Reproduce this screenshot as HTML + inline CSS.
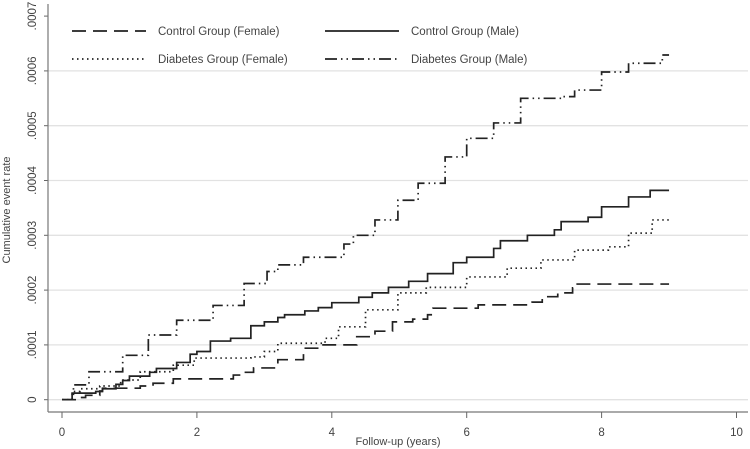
<!DOCTYPE html>
<html><head><meta charset="utf-8"><style>
html,body{margin:0;padding:0;background:#fff;}
svg{display:block;font-family:"Liberation Sans",Arial,sans-serif;}
</style></head><body>
<svg id="chart" width="750" height="449" viewBox="0 0 750 449">
<g id="grid"></g><g id="axes"></g><g id="series"></g><g id="legend"></g>
</svg>
<script>
const xTicks=[0,2,4,6,8,10];
const yTicks=[0,0.0001,0.0002,0.0003,0.0004,0.0005,0.0006,0.0007];
const yTickLabels=["0",".0001",".0002",".0003",".0004",".0005",".0006",".0007"];
const seriesNames=["Control Group (Female)","Control Group (Male)","Diabetes Group (Female)","Diabetes Group (Male)"];
const ctrlFemaleT=[0,0.27,0.35,0.56,0.6,1.16,1.35,1.65,2.54,2.7,2.84,3.2,3.58,3.83,4.37,4.64,4.9,5.2,5.42,5.5,6.17,6.97,7.12,7.35,7.57,7.62,9.0];
const ctrlFemaleV=[0,0.000004,0.000008,0.000016,0.000021,0.000025,0.00003,0.000038,0.000045,0.00005,0.000058,0.000073,0.000094,0.0001,0.000115,0.000125,0.000142,0.000147,0.000155,0.000167,0.000173,0.000178,0.000188,0.000195,0.000204,0.000211,0.000211];
const ctrlMaleT=[0,0.15,0.5,0.6,0.8,0.9,1.0,1.3,1.4,1.7,1.9,2.0,2.2,2.5,2.8,3.0,3.2,3.3,3.6,3.8,4.0,4.4,4.6,4.84,5.14,5.42,5.8,6.0,6.4,6.5,6.9,7.3,7.4,7.8,8.0,8.4,8.72,9.0];
const ctrlMaleV=[0,0.000012,0.000015,0.00002,0.000028,0.000035,0.000043,0.00005,0.000057,0.000068,0.000083,0.000088,0.000107,0.000112,0.000135,0.000142,0.00015,0.000155,0.000162,0.000168,0.000177,0.000187,0.000195,0.000205,0.000216,0.00023,0.00025,0.00026,0.000276,0.00029,0.0003,0.00031,0.000325,0.000333,0.000352,0.00037,0.000382,0.000382];
const diabFemaleT=[0,0.15,0.27,0.56,0.87,1.16,1.65,1.96,2.8,3.0,3.2,3.9,4.1,4.5,4.98,5.4,6.0,6.6,7.1,7.6,8.1,8.4,8.75,9.0];
const diabFemaleV=[0,0.000015,0.00002,0.000025,0.000036,0.000051,0.000063,0.000076,0.000078,0.000088,0.000103,0.000112,0.000133,0.000164,0.000195,0.000205,0.000224,0.00024,0.000255,0.000273,0.000279,0.000304,0.000328,0.000328];
const diabMaleT=[0,0.17,0.4,0.9,1.28,1.7,2.24,2.7,3.04,3.2,3.58,4.18,4.32,4.64,4.98,5.28,5.68,6.0,6.4,6.8,7.42,7.6,8.0,8.4,8.9,9.0];
const diabMaleV=[0,0.000027,0.000051,0.000081,0.000118,0.000145,0.000172,0.000212,0.000234,0.000246,0.00026,0.000284,0.0003,0.000328,0.000364,0.000395,0.000443,0.000477,0.000505,0.00055,0.000553,0.000565,0.000598,0.000614,0.000629,0.000629];

const NS="http://www.w3.org/2000/svg";
const X=v=>62+v*67.45;
const Y=v=>399.7-v*548000;
function mk(tag,attrs,parent,text){const e=document.createElementNS(NS,tag);for(const k in attrs)e.setAttribute(k,attrs[k]);if(text!==undefined)e.textContent=text;parent.appendChild(e);return e;}
const grid=document.getElementById('grid'),axes=document.getElementById('axes'),ser=document.getElementById('series'),leg=document.getElementById('legend');
yTicks.forEach((t,i)=>{
  if(i<7){const g=mk('line',{x1:48,x2:748,y1:Y(t),y2:Y(t),stroke:'#e2e2e2','stroke-width':1.3},grid);
  
  }
  const tk=mk('line',{x1:44,x2:48,y1:Y(t),y2:Y(t),stroke:'#666'},axes);
  
  
  const lb=mk('text',{x:0,y:0,transform:`translate(36,${Y(t)}) rotate(-90)`,'text-anchor':'middle','font-size':11.5,fill:'#444'},axes,yTickLabels[i]);
  
  
});
const ya=mk('line',{x1:48,x2:48,y1:4,y2:412,stroke:'#777','stroke-width':1.2},axes);


const xa=mk('line',{x1:48,x2:748,y1:412,y2:412,stroke:'#777','stroke-width':1.2},axes);


xTicks.forEach(t=>{
  const tk=mk('line',{x1:X(t),x2:X(t),y1:412,y2:418,stroke:'#666'},axes);
  
  
  const lb=mk('text',{x:X(t),y:436,'text-anchor':'middle','font-size':11.5,fill:'#444'},axes,String(t));
  
  
});
const xt=mk('text',{x:398,y:445,'text-anchor':'middle','font-size':11,fill:'#444'},axes,'Follow-up (years)');


const yt=mk('text',{x:0,y:0,transform:'translate(10,210) rotate(-90)','text-anchor':'middle','font-size':11,fill:'#444'},axes,'Cumulative event rate');


const dashes=["14 7","","1.5 3.5","12 4 1.5 4 1.5 4"];
const data=[[ctrlFemaleT,ctrlFemaleV],[ctrlMaleT,ctrlMaleV],[diabFemaleT,diabFemaleV],[diabMaleT,diabMaleV]];
const snames=['control-female-line','control-male-line','diabetes-female-line','diabetes-male-line'];
data.forEach(([T,V],i)=>{
  let d=`M${X(T[0])},${Y(V[0])}`;
  for(let k=1;k<T.length;k++){d+=` H${X(T[k])} V${Y(V[k])}`;}
  const p=mk('path',{d,fill:'none',stroke:'#222','stroke-width':1.7,'stroke-dasharray':dashes[i]},ser);
  
  
});
const lpos=[[72,30],[325,30],[72,58],[325,58]];
seriesNames.forEach((n,i)=>{
  const [lx,ly]=lpos[i];
  const g=mk('g',{},leg);
  
  
  mk('line',{x1:lx,x2:lx+74,y1:ly+1,y2:ly+1,stroke:'#222','stroke-width':1.7,'stroke-dasharray':dashes[i]},g);
  mk('text',{x:lx+86,y:ly+5,'font-size':11.5,fill:'#444'},g,n);
});
</script>
</body></html>
